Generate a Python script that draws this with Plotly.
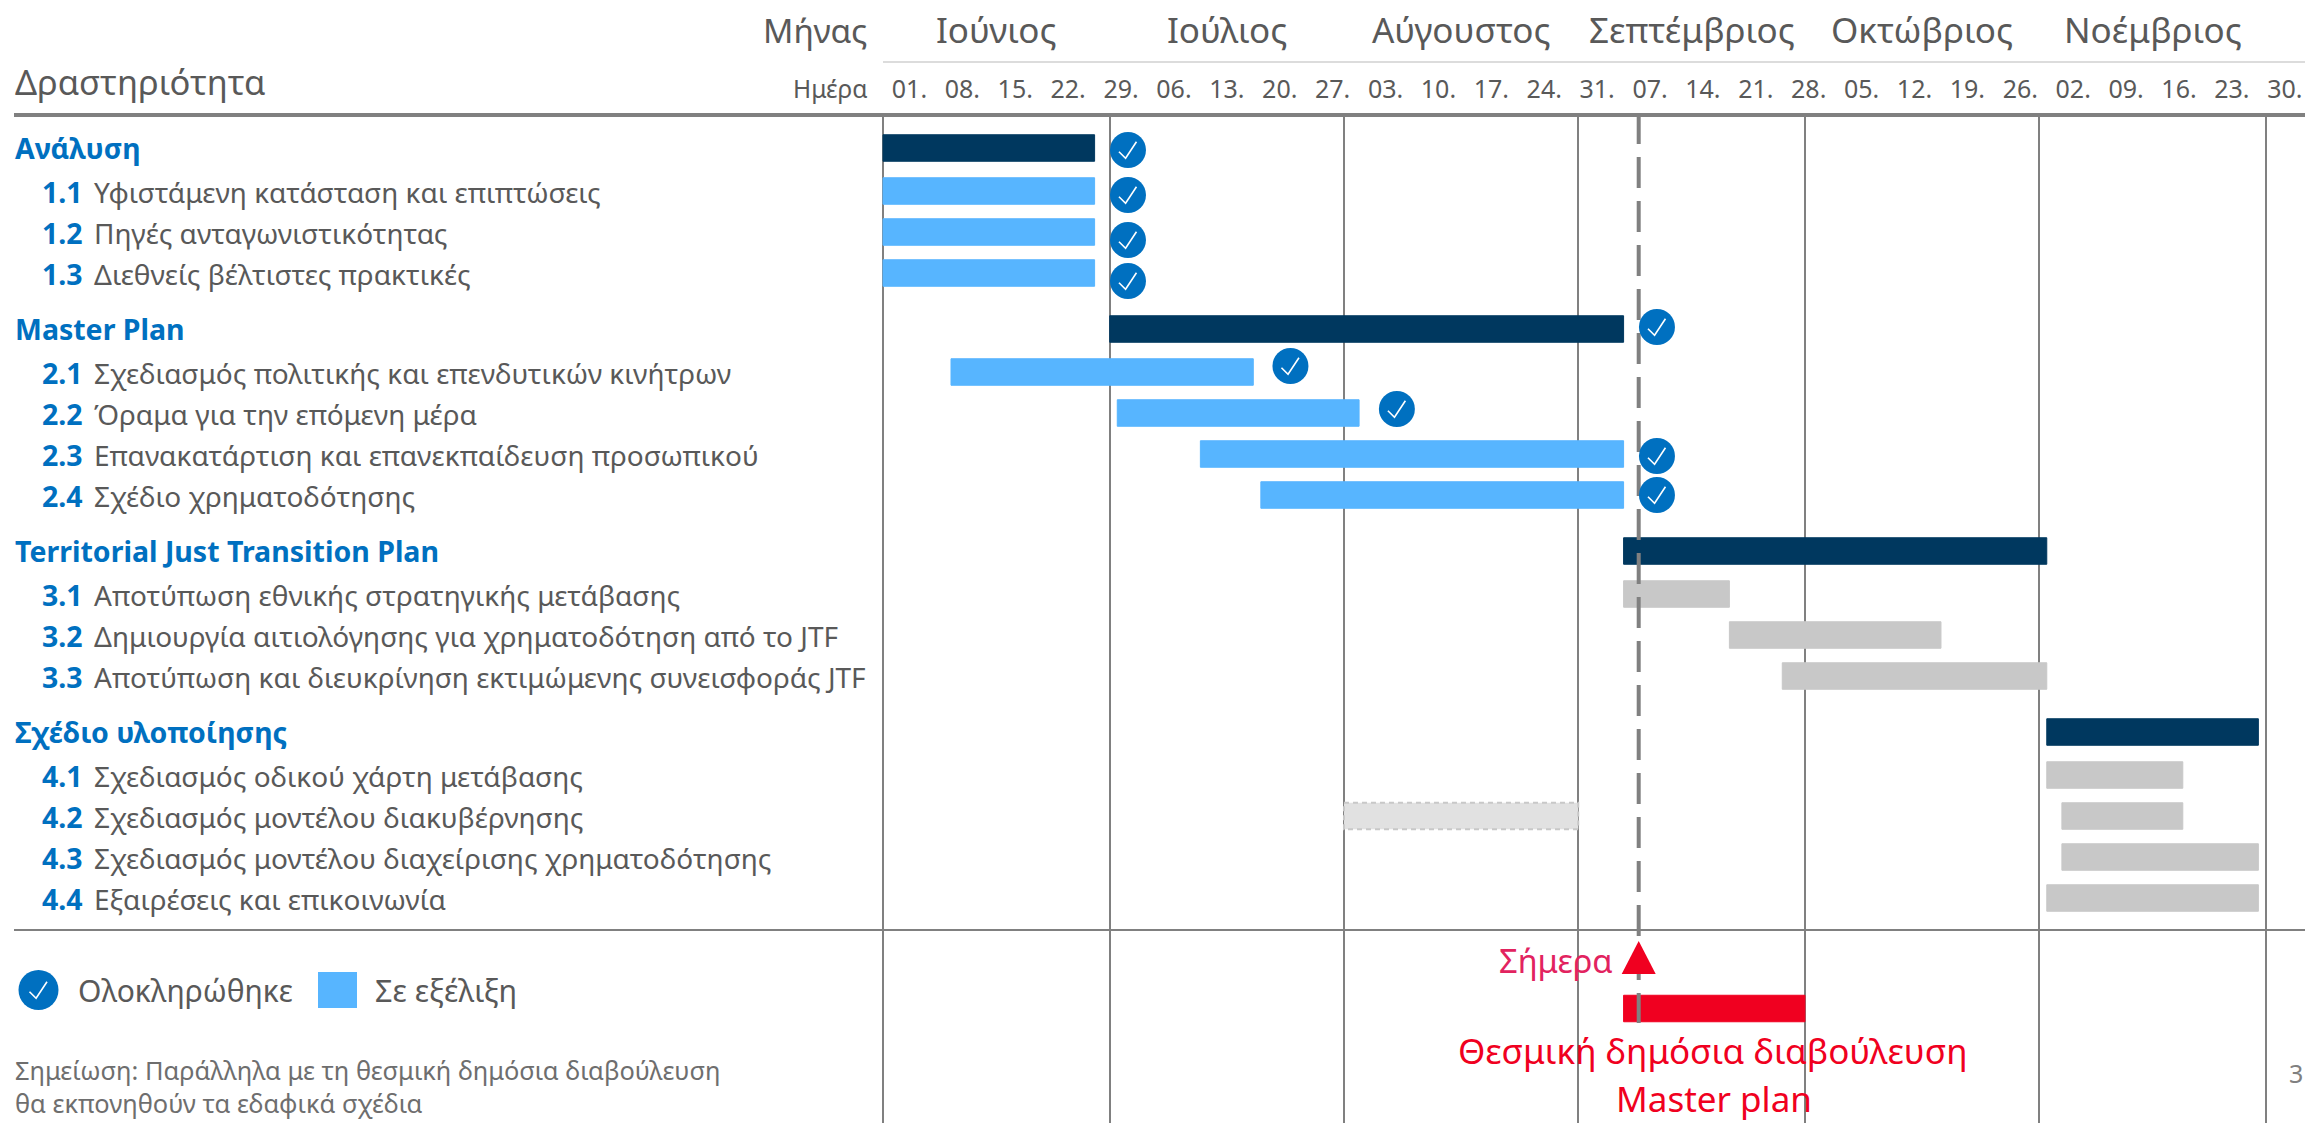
import plotly.graph_objects as go
from datetime import datetime, timedelta

W, H = 2305, 1123
PLOT_TOP = 116
ROW_PX = 41.0

FONT = "Noto Sans"
C_TEXT = "#595959"
C_BLUE = "#0070C0"
C_DARK = "#00385F"
C_LIGHT = "#57B5FF"
C_GREY = "#C8C8C8"
C_PALE = "#E1E1E1"
C_RED = "#F00020"
C_PINK = "#E2235F"
C_RULE = "#808080"

# ---- data ----
months = ["Ιούνιος", "Ιούλιος", "Αύγουστος", "Σεπτέμβριος", "Οκτώβριος", "Νοέμβριος"]
month_starts = ["2020-06-01", "2020-07-01", "2020-08-01", "2020-09-01", "2020-10-01", "2020-11-01", "2020-12-01"]
month_mids = ["2020-06-16", "2020-07-16 12:00", "2020-08-16 12:00", "2020-09-16", "2020-10-16 12:00", "2020-11-16"]
week_starts = ["2020-06-01", "2020-06-08", "2020-06-15", "2020-06-22", "2020-06-29", "2020-07-06", "2020-07-13",
               "2020-07-20", "2020-07-27", "2020-08-03", "2020-08-10", "2020-08-17", "2020-08-24", "2020-08-31",
               "2020-09-07", "2020-09-14", "2020-09-21", "2020-09-28", "2020-10-05", "2020-10-12", "2020-10-19",
               "2020-10-26", "2020-11-02", "2020-11-09", "2020-11-16", "2020-11-23", "2020-11-30"]
week_labels = ["01.", "08.", "15.", "22.", "29.", "06.", "13.", "20.", "27.", "03.", "10.", "17.", "24.", "31.",
               "07.", "14.", "21.", "28.", "05.", "12.", "19.", "26.", "02.", "09.", "16.", "23.", "30."]

row_codes = ["", "1.1", "1.2", "1.3", "", "2.1", "2.2", "2.3", "2.4", "", "3.1", "3.2", "3.3", "", "4.1", "4.2", "4.3", "4.4"]
row_names = ["Ανάλυση", "Υφιστάμενη κατάσταση και επιπτώσεις", "Πηγές ανταγωνιστικότητας", "Διεθνείς βέλτιστες πρακτικές",
             "Master Plan", "Σχεδιασμός πολιτικής και επενδυτικών κινήτρων", "Όραμα για την επόμενη μέρα",
             "Επανακατάρτιση και επανεκπαίδευση προσωπικού", "Σχέδιο χρηματοδότησης",
             "Territorial Just Transition Plan", "Αποτύπωση εθνικής στρατηγικής μετάβασης",
             "Δημιουργία αιτιολόγησης για χρηματοδότηση από το JTF", "Αποτύπωση και διευκρίνηση εκτιμώμενης συνεισφοράς JTF",
             "Σχέδιο υλοποίησης", "Σχεδιασμός οδικού χάρτη μετάβασης", "Σχεδιασμός μοντέλου διακυβέρνησης",
             "Σχεδιασμός μοντέλου διαχείρισης χρηματοδότησης", "Εξαιρέσεις και επικοινωνία"]
row_start = ["2020-06-01", "2020-06-01", "2020-06-01", "2020-06-01",
             "2020-07-01", "2020-06-10", "2020-07-02", "2020-07-13", "2020-07-21",
             "2020-09-07", "2020-09-07", "2020-09-21", "2020-09-28",
             "2020-11-02", "2020-11-02", "2020-11-04", "2020-11-04", "2020-11-02"]
row_end = ["2020-06-29", "2020-06-29", "2020-06-29", "2020-06-29",
           "2020-09-07", "2020-07-20", "2020-08-03", "2020-09-07", "2020-09-07",
           "2020-11-02", "2020-09-21", "2020-10-19", "2020-11-02",
           "2020-11-30", "2020-11-20", "2020-11-20", "2020-11-30", "2020-11-30"]
row_status = ["group", "active", "active", "active", "group", "active", "active", "active", "active",
              "group", "plan", "plan", "plan", "group", "plan", "plan", "plan", "plan"]

early_start = "2020-08-01"
early_end = "2020-09-01"
early_row = 15

done_rows = [0, 1, 2, 3, 4, 5, 6, 7, 8]
done_dates = ["2020-07-03 10:00", "2020-07-03 10:00", "2020-07-03 10:00", "2020-07-03 10:00", "2020-09-11 10:00",
              "2020-07-24 22:00", "2020-08-08", "2020-09-11 10:00", "2020-09-11 10:00"]
done_nudge = [2, 4, 8, 8, -2, -6, -4, 2, 0]

today = "2020-09-09"
consult_start = "2020-09-07"
consult_end = "2020-10-01"


# ---- scales ----
def d(s):
    return datetime.fromisoformat(s)


PX_PER_DAY = 7.557
X0 = d("2020-06-01")
X_PX0 = 883
x_range = [X0 - timedelta(days=X_PX0 / PX_PER_DAY), X0 + timedelta(days=(W - X_PX0) / PX_PER_DAY)]

# row positions in row units: the first header is 0, tasks follow one row apart, headers have a wider gap
row_y = []
pos = 0.0
for i, c in enumerate(row_codes):
    if i:
        if c == "":
            pos += 56 / ROW_PX
        elif row_codes[i - 1] == "":
            pos += 43 / ROW_PX
        else:
            pos += 1
    row_y.append(pos)
Y_PX0 = 148


def rows_from_px(py):
    return (py - Y_PX0) / ROW_PX


y_range = [rows_from_px(H), rows_from_px(PLOT_TOP)]


def px(v):
    return v / W


def py(v):
    return 1 - (v - PLOT_TOP) / (H - PLOT_TOP)


BAR_W = 26.5 / ROW_PX
fig = go.Figure()


def bars(idx, color, y=None, s=None, e=None):
    starts = s or [row_start[i] for i in idx]
    ends = e or [row_end[i] for i in idx]
    ys = y or [row_y[i] for i in idx]
    fig.add_trace(go.Bar(
        orientation="h", y=ys, base=starts,
        x=[(d(b) - d(a)).total_seconds() * 1000 for a, b in zip(starts, ends)],
        width=BAR_W, marker=dict(color=color, line=dict(width=1, color=color)),
        hoverinfo="skip", showlegend=False))


bars([i for i, s in enumerate(row_status) if s == "group"], C_DARK)
bars([i for i, s in enumerate(row_status) if s == "active"], C_LIGHT)
bars([i for i, s in enumerate(row_status) if s == "plan"], C_GREY)
bars([], C_RED, y=[rows_from_px(1008.5)], s=[consult_start], e=[consult_end])

# earlier pale bar with dashed outline
ey = row_y[early_row]
fig.add_trace(go.Scatter(
    x=[early_start, early_end, early_end, early_start, early_start],
    y=[ey - BAR_W / 2, ey - BAR_W / 2, ey + BAR_W / 2, ey + BAR_W / 2, ey - BAR_W / 2],
    mode="lines", fill="toself", fillcolor=C_PALE,
    line=dict(color=C_GREY, width=2, dash="5px,4px"), hoverinfo="skip", showlegend=False))

# today line
fig.add_trace(go.Scatter(
    x=[today, today], y=[rows_from_px(113), rows_from_px(1023)], mode="lines",
    line=dict(color=C_RULE, width=4, dash="31px,13px"), hoverinfo="skip", showlegend=False))

# today triangle
tri = timedelta(days=17 / PX_PER_DAY)
fig.add_trace(go.Scatter(
    x=[d(today) - tri, d(today) + tri, d(today), d(today) - tri],
    y=[rows_from_px(974), rows_from_px(974), rows_from_px(941), rows_from_px(974)],
    mode="lines", fill="toself", fillcolor=C_RED, line=dict(color=C_RED, width=0),
    hoverinfo="skip", showlegend=False))

# completed marks
done_y = [row_y[r] + n / ROW_PX for r, n in zip(done_rows, done_nudge)]
fig.add_trace(go.Scatter(
    x=done_dates, y=done_y, mode="markers",
    marker=dict(size=36, color=C_BLUE, line=dict(width=0)), hoverinfo="skip", showlegend=False))

# thin white tick inside each completed mark, placed relative to the mark
TICK_PX = [(-9, 1.7), (-2.4, 8.3), (8.5, -8.3)]
tx, ty = [], []
for dt, y in zip(done_dates, done_y):
    for ox, oy in TICK_PX:
        tx.append(d(dt) + timedelta(days=ox / PX_PER_DAY))
        ty.append(y + oy / ROW_PX)
    tx.append(None)
    ty.append(None)
fig.add_trace(go.Scatter(x=tx, y=ty, mode="lines", line=dict(color="white", width=1.6),
                         hoverinfo="skip", showlegend=False))

ann = []


def text(x, y, s, size, color=C_TEXT, xanchor="left", bold=False, yref="paper", xref="paper"):
    if bold:
        s = f"<b>{s}</b>"
    ann.append(dict(x=x, y=y, text=s, xref=xref, yref=yref, xanchor=xanchor, yanchor="middle", showarrow=False,
                    align="left" if xanchor == "left" else "center",
                    font=dict(family=FONT, size=size, color=color), borderpad=0))


# header
text(px(868), py(30), "Μήνας", 33.5, xanchor="right")
text(px(14), py(81), "Δραστηριότητα", 34.5)
text(px(868), py(89), "Ημέρα", 24.5, xanchor="right")
for m, mid in zip(months, month_mids):
    text(mid, py(30), m, 35, xanchor="center", xref="x")

# row labels
for c, n, y in zip(row_codes, row_names, row_y):
    if c:
        text(px(41), y + 0.5 / ROW_PX, c, 28.5, C_BLUE, bold=True, yref="y")
        text(px(93), y + 0.5 / ROW_PX, n, 28, yref="y")
    else:
        text(px(14), y - 0.5 / ROW_PX, n, 28.5, C_BLUE, bold=True, yref="y")

# legend
text(px(77), py(990), "Ολοκληρώθηκε", 30)
text(px(374), py(990), "Σε εξέλιξη", 30.5)

# note
text(px(14), py(1086), "Σημείωση: Παράλληλα με τη θεσμική δημόσια διαβούλευση<br>θα εκπονηθούν τα εδαφικά σχέδια",
     25.4, "#6E6E6E")

# callouts
text(px(1614), py(960), "Σήμερα", 32.7, C_PINK, xanchor="right")
text(px(1713), py(1050), "Θεσμική δημόσια διαβούλευση", 35, C_RED, xanchor="center")
text(px(1714), py(1098), "Master plan", 35, C_RED, xanchor="center")
text(px(2288), py(1073), "3", 25, C_RULE)

lx, ly = 38.5, 990
shapes = [
    dict(type="line", xref="paper", yref="paper", x0=px(883), x1=1, y0=py(62), y1=py(62),
         line=dict(color="#DCDCDC", width=2), layer="between"),
    dict(type="line", xref="paper", yref="paper", x0=px(14), x1=1, y0=py(115), y1=py(115),
         line=dict(color=C_RULE, width=4), layer="between"),
    dict(type="line", xref="paper", yref="paper", x0=px(14), x1=1, y0=py(930), y1=py(930),
         line=dict(color=C_RULE, width=2), layer="between"),
    # clear the grid behind the callout texts
    dict(type="rect", xref="paper", yref="paper", x0=px(1500), x1=px(1618), y0=py(980), y1=py(935),
         fillcolor="white", line=dict(width=0), layer="between"),
    dict(type="rect", xref="paper", yref="paper", x0=px(1460), x1=px(1967), y0=py(1123), y1=py(1025),
         fillcolor="white", line=dict(width=0), layer="between"),
    # legend swatches
    dict(type="circle", xref="paper", yref="paper", x0=px(lx - 20), x1=px(lx + 20), y0=py(ly + 20), y1=py(ly - 20),
         fillcolor=C_BLUE, line=dict(width=0), layer="above"),
    dict(type="path", xref="paper", yref="paper",
         path="M " + " L ".join(f"{px(lx + ox)},{py(ly + oy)}" for ox, oy in TICK_PX),
         line=dict(color="white", width=1.6), layer="above"),
    dict(type="rect", xref="paper", yref="paper", x0=px(318), x1=px(357), y0=py(1008), y1=py(972),
         fillcolor=C_LIGHT, line=dict(width=0), layer="between"),
]

week_mids = [d(w) + timedelta(days=3.5) for w in week_starts]

fig.update_layout(
    width=W, height=H, margin=dict(l=0, r=0, t=PLOT_TOP, b=0),
    paper_bgcolor="white", plot_bgcolor="white", barmode="overlay",
    showlegend=False, annotations=ann, shapes=shapes,
    xaxis=dict(type="date", side="top", range=x_range, showgrid=False, zeroline=False, showline=False,
               tickmode="array", tickvals=week_mids, ticktext=week_labels,
               ticks="outside", ticklen=7, tickcolor="rgba(0,0,0,0)", tickangle=0,
               tickfont=dict(family=FONT, size=25, color=C_TEXT),
               minor=dict(tickmode="array", tickvals=month_starts, showgrid=True,
                          gridcolor=C_RULE, gridwidth=1.5, ticks="")),
    yaxis=dict(range=y_range, showgrid=False, zeroline=False, showline=False, showticklabels=False, ticks=""),
)

fig.write_html("out.html", config=dict(displayModeBar=False),
               post_script="document.body.style.margin='0';")
